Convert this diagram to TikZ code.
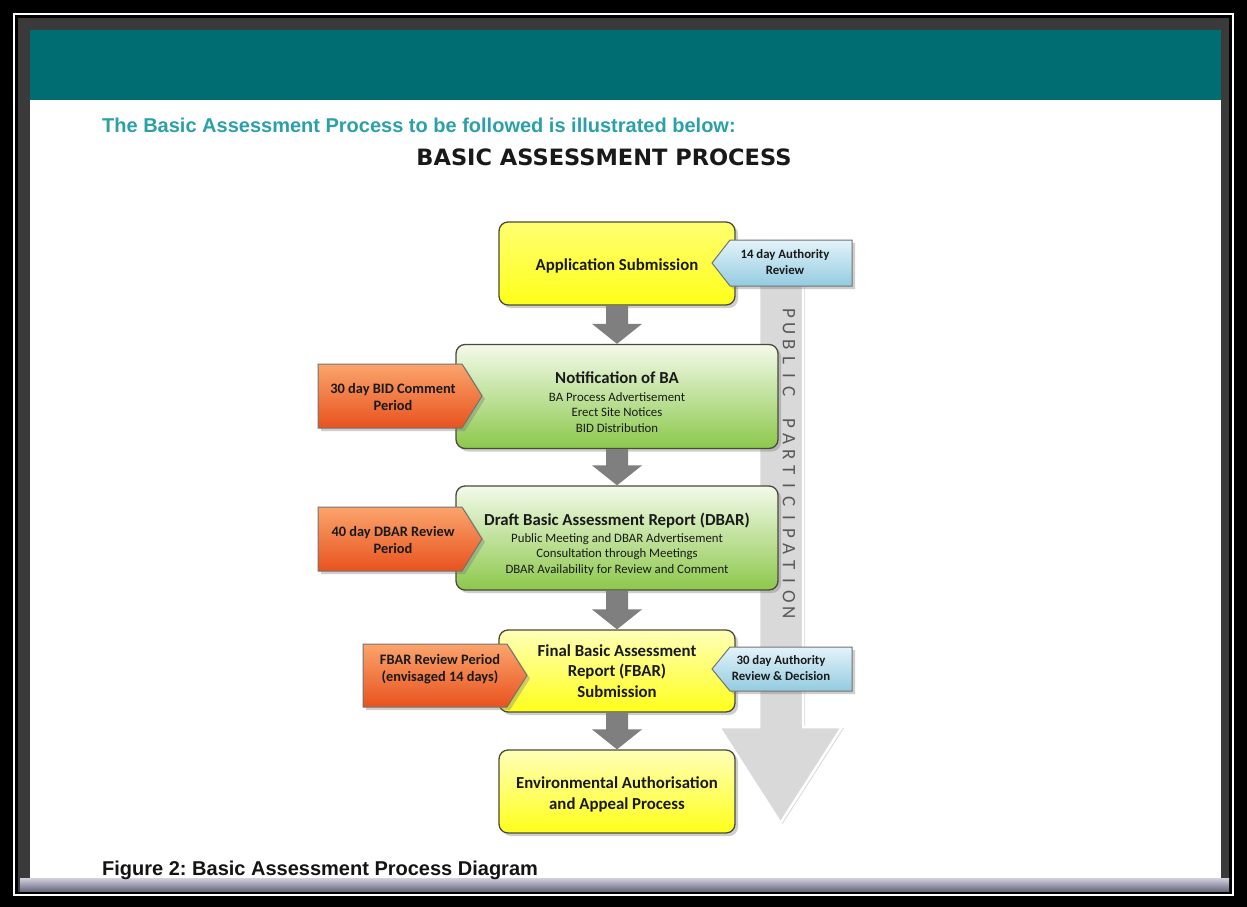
\documentclass[tikz,border=0pt]{standalone}
\usepackage{fontspec}
\setmainfont{Carlito}
\newfontfamily\arialf{Liberation Sans}
\newfontfamily\verdf{DejaVu Sans}
\usetikzlibrary{shadows,calc}
\definecolor{headteal}{HTML}{2BA0A9}
\definecolor{bandteal}{HTML}{006D72}
\definecolor{framegray}{HTML}{3A3A3A}
\definecolor{barlight}{HTML}{D4D0E0}
\definecolor{bardark}{HTML}{6A6A7E}
\definecolor{yelTop}{HTML}{FFFFB8}
\definecolor{yelTopA}{HTML}{FFFF70}
\definecolor{yelBot}{HTML}{FFFF1A}
\definecolor{grnTop}{HTML}{F3FAEA}
\definecolor{grnBot}{HTML}{8CC84B}
\definecolor{orTop}{HTML}{FBA46C}
\definecolor{orBot}{HTML}{E8521E}
\definecolor{bluTop}{HTML}{E4F3FA}
\definecolor{bluBot}{HTML}{93CBE0}
\definecolor{flowgray}{HTML}{7F7F7F}
\definecolor{bigarrow}{HTML}{D9D9D9}
\definecolor{boxline}{HTML}{4A4A3A}
\definecolor{txt}{HTML}{1A1A1A}
\newcommand\btitle{\fontsize{16.8}{19}\selectfont\bfseries}
\newcommand\flowarrow[2]{%
  \fill[flowgray] ($(#1.south)+(-11,0)$) -- ($(#2.north)+(-11,-20)$) -- ($(#2.north)+(-25,-20)$) --
  (#2.north) -- ($(#2.north)+(25,-20)$) -- ($(#2.north)+(11,-20)$) -- ($(#1.south)+(11,0)$) -- cycle;}
\tikzset{
  shad/.style={drop shadow={shadow xshift=3pt, shadow yshift=-3pt, opacity=.35, fill=black!55}},
  box/.style={draw=boxline, line width=1.3pt, rounded corners=9pt, align=center, inner sep=2pt, text=txt, shad},
  ybox/.style={box, top color=yelTop, bottom color=yelBot, minimum width=236pt, minimum height=83pt,
    font=\fontsize{16.8}{20.5}\selectfont\bfseries},
  gbox/.style={box, top color=grnTop, bottom color=grnBot, minimum width=322pt, minimum height=104pt,
    font=\fontsize{12.8}{15.5}\selectfont},
  orng/.style={top color=orTop, bottom color=orBot, draw=black!55, line width=1pt, shad},
  blu/.style={top color=bluTop, bottom color=bluBot, draw=black!55, line width=1pt, shad},
  otext/.style={align=center, text=txt, font=\fontsize{14.4}{17}\selectfont\bfseries, inner sep=0pt},
  btext/.style={align=center, text=txt, font=\fontsize{12.8}{16}\selectfont\bfseries, inner sep=0pt},
  pptext/.style={rotate=-90, text=black!65, font=\fontsize{19}{22}\selectfont, inner sep=0pt},
}
\begin{document}
\frenchspacing
\begin{tikzpicture}[x=1pt,y=-1pt]
\useasboundingbox (0,0) rectangle (1247,907);
% frame
\fill[black] (0,0) rectangle (1247,907);
\draw[white,line width=2pt] (14,14) rectangle (1233,895);
\fill[framegray] (18,18) rectangle (1229,892);
\fill[bandteal] (30,30) rectangle (1221,100);
\fill[white] (30,100) rectangle (1221,878);
\shade[top color=barlight,bottom color=bardark] (20,878) rectangle (1229,891);
% headings
\node[anchor=west, inner sep=0pt, text=headteal, font=\arialf\bfseries\fontsize{20}{22}\selectfont] (head) at (102,125)
  {The Basic Assessment Process to be followed is illustrated below:};
\node[inner sep=0pt, text=black!90, font=\verdf\bfseries\fontsize{22.5}{26}\selectfont] (title) at (604,157)
  {BASIC ASSESSMENT PROCESS};
% big public participation arrow
\path[fill=bigarrow, draw=white, line width=2.5pt, drop shadow={shadow xshift=2pt, shadow yshift=-1pt, opacity=.3, fill=black!50}]
  (759,270) -- (759,727) -- (719,727) -- (780.5,823) -- (842,727) -- (803,727) -- (803,270) -- cycle;
\foreach \ch [count=\i from 0] in {P,U,B,L,I,C,{},P,A,R,T,I,C,I,P,A,T,I,O,N}
  \node[pptext] (pp\i) at (789,313+\i*15.75) {\ch};
% process boxes
\node[ybox, top color=yelTopA] (app) at (617,263.5) {\rule{0pt}{16pt}Application Submission};
\node[gbox] (notif) at (617,396.5) {{\btitle\rule{0pt}{22.6pt}Notification of BA}\\[2.5pt]BA Process Advertisement\\Erect Site Notices\\BID Distribution};
\node[gbox] (dbar) at (617,538) {{\btitle\rule{0pt}{25pt}Draft Basic Assessment Report (DBAR)}\\[1.5pt]Public Meeting and DBAR Advertisement\\Consultation through Meetings\\DBAR Availability for Review and Comment};
\node[ybox, minimum height=82pt] (fbar) at (617,671) {Final Basic Assessment\\Report (FBAR)\\Submission};
\node[ybox, font=\fontsize{16.8}{21}\selectfont\bfseries] (env) at (617,791.5) {\rule{0pt}{18.6pt}Environmental Authorisation\\and Appeal Process};
% flow arrows
\flowarrow{app}{notif}
\flowarrow{notif}{dbar}
\flowarrow{dbar}{fbar}
\flowarrow{fbar}{env}
% side tags
\path[orng] (318,364) -- (462,364) -- (482,396) -- (462,428) -- (318,428) -- cycle;
\node[otext] (o1) at (393,397) {30 day BID Comment\\Period};
\path[orng] (318,507) -- (462,507) -- (482,539) -- (462,571) -- (318,571) -- cycle;
\node[otext] (o2) at (393,540) {40 day DBAR Review\\Period};
\path[orng] (363,644) -- (507,644) -- (527,675.5) -- (507,707) -- (363,707) -- cycle;
\node[otext] (o3) at (440,669) {FBAR Review Period\\(envisaged 14 days)};
\path[blu] (852,240) -- (730,240) -- (712,263) -- (730,286) -- (852,286) -- cycle;
\node[btext] (b1) at (785,262) {14 day Authority\\Review};
\path[blu] (852,647) -- (730,647) -- (712,669) -- (730,691) -- (852,691) -- cycle;
\node[btext] (b2) at (781,668) {30 day Authority\\Review \& Decision};
% caption
\node[anchor=west, inner sep=0pt, text=black!92, font=\arialf\bfseries\fontsize{20}{22}\selectfont] (cap) at (102,870.5)
  {Figure 2: Basic Assessment Process Diagram};
\end{tikzpicture}
\end{document}
